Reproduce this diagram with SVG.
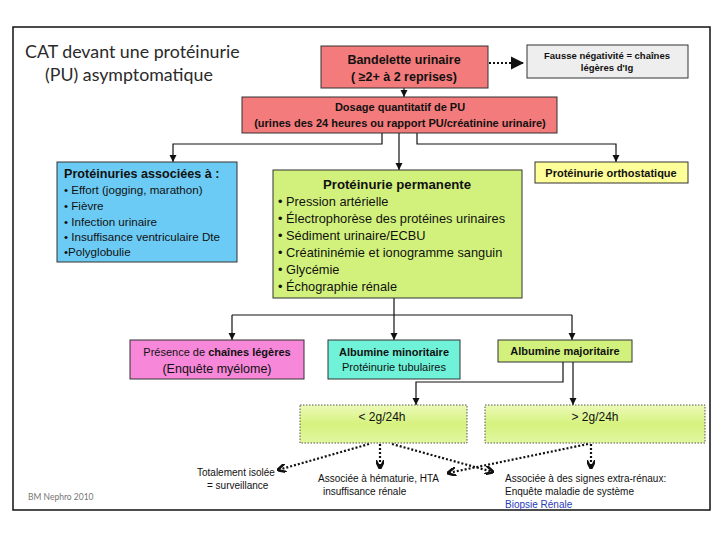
<svg xmlns="http://www.w3.org/2000/svg" width="720" height="540" viewBox="0 0 720 540">
<defs>
<style>
.box{stroke:#333;stroke-width:1}
.t{font-family:"Liberation Sans",Arial,sans-serif;fill:#111}
.b{font-weight:bold}
.ln{fill:none;stroke:#111;stroke-width:1.2}
.dot{fill:none;stroke:#111;stroke-width:2.2;stroke-dasharray:2 2}
</style>
<marker id="ah" viewBox="0 0 10 10" refX="10" refY="5" markerWidth="6" markerHeight="6" orient="auto"><path d="M0,0 L10,5 L0,10 z" fill="#111"/></marker>
<marker id="ah2" viewBox="0 0 10 10" refX="9" refY="5" markerWidth="4" markerHeight="4" orient="auto"><path d="M0,0 L10,5 L0,10" fill="none" stroke="#111" stroke-width="3"/></marker>
<linearGradient id="lg" x1="0" y1="0" x2="0" y2="1"><stop offset="0" stop-color="#ecfab8"/><stop offset="0.5" stop-color="#d6f27f"/><stop offset="1" stop-color="#e2f7a0"/></linearGradient>
</defs>
<rect x="0" y="0" width="720" height="540" fill="#fff"/>
<rect x="13" y="27" width="697" height="483" fill="#fff" stroke="#111" stroke-width="1.5"/>
<g id="title">
<text x="25" y="58" font-family="Lato,'Open Sans',sans-serif" font-size="17.8" fill="#2a2a2a">CAT devant une protéinurie</text>
<text x="45" y="81" font-family="Lato,'Open Sans',sans-serif" font-size="17.8" fill="#2a2a2a">(PU) asymptomatique</text>
</g>
<g id="connectors">
<path class="dot" d="M489,63 H524" stroke-width="1.3" marker-end="url(#ah)"/>
<path class="ln" d="M404,88 V97" marker-end="url(#ah)"/>
<path class="ln" d="M382,133 V144 H173 V162" marker-end="url(#ah)"/>
<path class="ln" d="M399,133 V170" marker-end="url(#ah)"/>
<path class="ln" d="M417,133 V144 H616 V162" stroke="#666" marker-end="url(#ah)"/>
<path class="ln" d="M394,298 V315 M232,315 H572" />
<path class="ln" d="M232,315 V340" marker-end="url(#ah)"/>
<path class="ln" d="M394,315 V340" marker-end="url(#ah)"/>
<path class="ln" d="M572,315 V340" marker-end="url(#ah)"/>
<path class="ln" d="M563,362 V382 H416 V405" marker-end="url(#ah)"/>
<path class="ln" d="M573,362 V405" stroke="#777" marker-end="url(#ah)"/>
<path class="dot" d="M369,444 L278,470" marker-end="url(#ah2)"/>
<path class="dot" d="M380,444 V468" marker-end="url(#ah2)"/>
<path class="dot" d="M392,444 L493,472" marker-end="url(#ah2)"/>
<path class="dot" d="M588,444 L448,473" marker-end="url(#ah2)"/>
<path class="dot" d="M591,444 V468" marker-end="url(#ah2)"/>
</g>
<g id="bandelette">
<rect class="box" x="321" y="46" width="167" height="42" fill="#f47b7b"/>
<text class="t b" x="404" y="64" font-size="12.5" text-anchor="middle">Bandelette urinaire</text>
<text class="t b" x="404" y="81" font-size="12.5" text-anchor="middle">( ≥2+ à 2 reprises)</text>
</g>
<g id="fausse">
<rect class="box" x="527" y="45" width="161" height="33" fill="#eeeeee"/>
<text class="t b" x="607" y="59" font-size="9.5" text-anchor="middle">Fausse négativité = chaînes</text>
<text class="t b" x="607" y="71" font-size="9.5" text-anchor="middle">légères d'Ig</text>
</g>
<g id="dosage">
<rect class="box" x="242" y="97" width="315" height="36" fill="#f47b7b"/>
<text class="t b" x="400" y="111" font-size="11" text-anchor="middle">Dosage quantitatif de PU</text>
<text class="t b" x="400" y="127" font-size="11" text-anchor="middle">(urines des 24 heures ou rapport PU/créatinine urinaire)</text>
</g>
<g id="associees">
<rect class="box" x="57" y="162" width="180" height="100" fill="#6ccbf4"/>
<text class="t b" x="64" y="178" font-size="12.6">Protéinuries associées à :</text>
<text class="t" x="64" y="194" font-size="11.6">• Effort (jogging, marathon)</text>
<text class="t" x="64" y="210" font-size="11.6">• Fièvre</text>
<text class="t" x="64" y="226" font-size="11.6">• Infection urinaire</text>
<text class="t" x="64" y="241" font-size="11.6">• Insuffisance ventriculaire Dte</text>
<text class="t" x="64" y="256" font-size="11.6">•Polyglobulie</text>
</g>
<g id="permanente">
<rect class="box" x="273" y="170" width="249" height="128" fill="#d2f17c"/>
<text class="t b" x="397" y="189" font-size="13.2" text-anchor="middle">Protéinurie permanente</text>
<text class="t" x="278" y="206" font-size="12.8">• Pression artérielle</text>
<text class="t" x="278" y="223" font-size="12.8">• Électrophorèse des protéines urinaires</text>
<text class="t" x="278" y="240" font-size="12.8">• Sédiment urinaire/ECBU</text>
<text class="t" x="278" y="257" font-size="12.8">• Créatininémie et ionogramme sanguin</text>
<text class="t" x="278" y="274" font-size="12.8">• Glycémie</text>
<text class="t" x="278" y="291" font-size="12.8">• Échographie rénale</text>
</g>
<g id="orthostatique">
<rect class="box" x="535" y="162" width="153" height="21" fill="#ffff99"/>
<text class="t b" x="611" y="177" font-size="11" text-anchor="middle">Protéinurie orthostatique</text>
</g>
<g id="chaines">
<rect class="box" x="130" y="340" width="174" height="39" fill="#f787d9"/>
<text class="t" x="217" y="356" font-size="11" text-anchor="middle">Présence de <tspan class="b">chaînes légères</tspan></text>
<text class="t" x="217" y="373" font-size="12.5" text-anchor="middle">(Enquête myélome)</text>
</g>
<g id="minoritaire">
<rect class="box" x="328" y="340" width="132" height="39" fill="#6ff2d8"/>
<text class="t b" x="394" y="356" font-size="11" text-anchor="middle">Albumine minoritaire</text>
<text class="t" x="394" y="371" font-size="11" text-anchor="middle">Protéinurie tubulaires</text>
</g>
<g id="majoritaire">
<rect class="box" x="498" y="340" width="134" height="22" fill="#d2f17c"/>
<text class="t b" x="565" y="355" font-size="11" text-anchor="middle">Albumine majoritaire</text>
</g>
<g id="moins2g">
<rect x="300" y="405" width="167" height="38" fill="url(#lg)" stroke="#555" stroke-dasharray="1.5 1.5"/>
<text class="t" x="382" y="421" font-size="12" text-anchor="middle">&lt; 2g/24h</text>
</g>
<g id="plus2g">
<rect x="485" y="405" width="220" height="38" fill="url(#lg)" stroke="#555" stroke-dasharray="1.5 1.5"/>
<text class="t" x="595" y="421" font-size="12" text-anchor="middle">&gt; 2g/24h</text>
</g>
<g id="isolee">
<text class="t" x="197" y="476" font-size="10">Totalement isolée</text>
<text class="t" x="207" y="489" font-size="10">= surveillance</text>
</g>
<g id="hematurie">
<text class="t" x="318" y="482" font-size="10">Associée à hématurie, HTA</text>
<text class="t" x="323" y="495" font-size="10">insuffisance rénale</text>
</g>
<g id="extrarenaux">
<text class="t" x="505" y="482" font-size="10">Associée à des signes extra-rénaux:</text>
<text class="t" x="505" y="495" font-size="10">Enquête maladie de système</text>
<text class="t" x="505" y="508" font-size="10" style="fill:#2a3cb8">Biopsie Rénale</text>
</g>
<text x="28" y="500" font-family="Lato,'Open Sans',sans-serif" font-size="8.5" fill="#777">BM Nephro 2010</text>
</svg>
